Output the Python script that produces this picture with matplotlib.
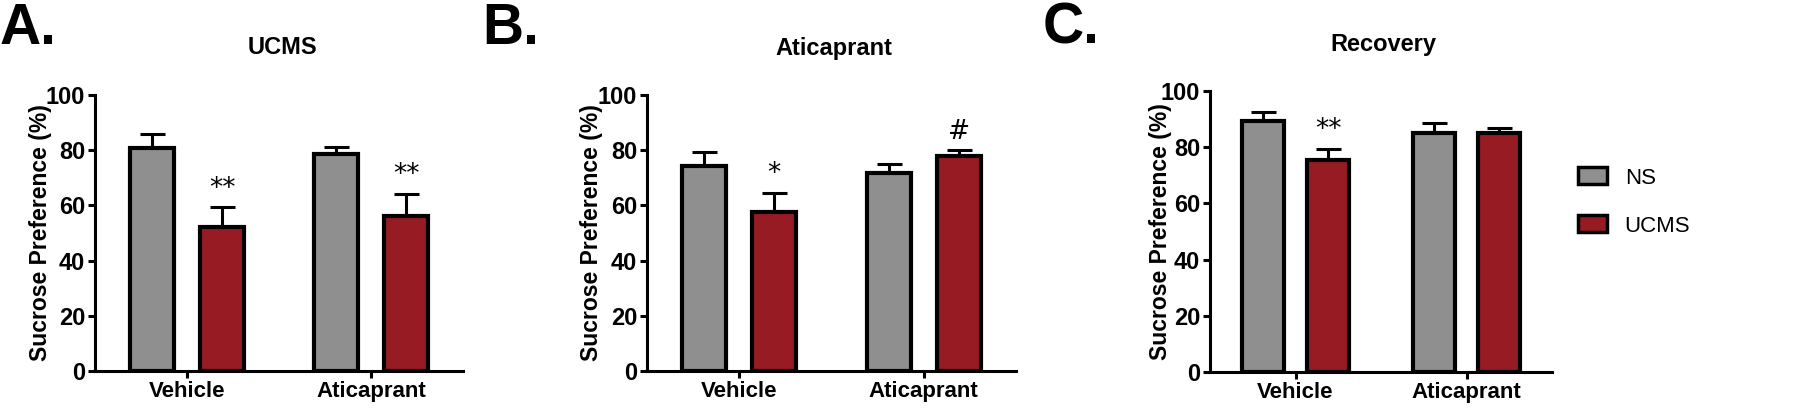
"""Sucrose preference bar charts for the three test phases."""

import matplotlib
matplotlib.use("Agg")
import matplotlib.pyplot as plt
from matplotlib.patches import Patch

plt.rcParams["font.family"] = ["Liberation Sans", "DejaVu Sans"]

# Data
groups = ["Vehicle", "Aticaprant"]
titles = ["UCMS", "Aticaprant", "Recovery"]
letters = ["A.", "B.", "C."]
ns_mean = [[80.9, 78.5], [74.3, 71.6], [89.2, 85.1]]
ns_err = [[5.0, 2.7], [5.2, 3.4], [3.2, 3.5]]
ucms_mean = [[52.3, 56.2], [57.7, 77.9], [75.6, 85.1]]
ucms_err = [[7.0, 8.1], [6.9, 2.1], [3.9, 1.9]]
ucms_marks = [["**", "**"], ["*", "#"], ["**", ""]]

gray = "#8f8f8f"
red = "#961b23"

W, H = 1800, 408
fig = plt.figure(figsize=(W / 100, H / 100), dpi=100)

# axes boxes in pixels: left, right, top, bottom
boxes = [(95, 463, 95, 371), (647, 1016, 95, 371), (1210, 1552, 91, 372)]
ylabel_x = [-0.117, -0.119, -0.111]
title_pos = [(282, 48), (834, 48), (1383, 45)]
letter_pos = [(0, 44), (482, 44), (1043, 44)]

for i in range(3):
    l, r, t, b = boxes[i]
    ax = fig.add_axes([l / W, 1 - b / H, (r - l) / W, (b - t) / H])
    w = 0.24
    off = 0.19
    for j in range(2):
        ax.bar(j - off, ns_mean[i][j], w, color=gray, edgecolor="black",
               linewidth=3, zorder=3)
        ax.bar(j + off, ucms_mean[i][j], w, color=red, edgecolor="black",
               linewidth=3, zorder=3)
        ax.errorbar(j - off, ns_mean[i][j], yerr=[[0], [ns_err[i][j]]],
                    fmt="none", ecolor="black", elinewidth=2.2, capsize=9,
                    capthick=2.2, zorder=2)
        ax.errorbar(j + off, ucms_mean[i][j], yerr=[[0], [ucms_err[i][j]]],
                    fmt="none", ecolor="black", elinewidth=2.2, capsize=9,
                    capthick=2.2, zorder=2)
        mark = ucms_marks[i][j]
        if mark:
            ax.text(j + off, ucms_mean[i][j] + ucms_err[i][j] + 2.0, mark,
                    ha="center", va="bottom", fontsize=19,
                    family=["DejaVu Sans"], fontweight="normal")

    ax.set_xlim(-0.5, 1.5)
    ax.set_ylim(0, 100)
    ax.set_yticks([0, 20, 40, 60, 80, 100])
    ax.set_xticks([0, 1])
    ax.set_xticklabels(groups, fontsize=16, fontweight="bold")
    ax.set_ylabel("Sucrose Preference (%)", fontsize=16.5, fontweight="bold")
    ax.yaxis.set_label_coords(ylabel_x[i], 0.5)
    for lab in ax.get_yticklabels():
        lab.set_fontsize(17)
        lab.set_fontweight("bold")
    ax.spines["top"].set_visible(False)
    ax.spines["right"].set_visible(False)
    ax.spines["left"].set_linewidth(2.2)
    ax.spines["bottom"].set_linewidth(2.2)
    ax.tick_params(axis="both", width=2.2, length=5, pad=2)
    ax.spines["left"].set_zorder(4)
    ax.spines["bottom"].set_zorder(4)

    tx, ty = title_pos[i]
    fig.text(tx / W, 1 - ty / H, titles[i], ha="center", va="center",
             fontsize=17, fontweight="bold")
    lx, ly = letter_pos[i]
    fig.text(lx / W, 1 - ly / H, letters[i], ha="left", va="baseline",
             fontsize=41, fontweight="bold")

    if i == 2:
        handles = [Patch(facecolor=gray, edgecolor="black", linewidth=2.5),
                   Patch(facecolor=red, edgecolor="black", linewidth=2.5)]
        fig.legend(handles, ["NS", "UCMS"], loc="center left",
                   bbox_to_anchor=(1558 / W, 1 - 202 / H), frameon=False,
                   fontsize=16, handlelength=1.3, handleheight=0.8,
                   labelspacing=1.2, handletextpad=0.8)

fig.savefig("out.png", dpi=100)
